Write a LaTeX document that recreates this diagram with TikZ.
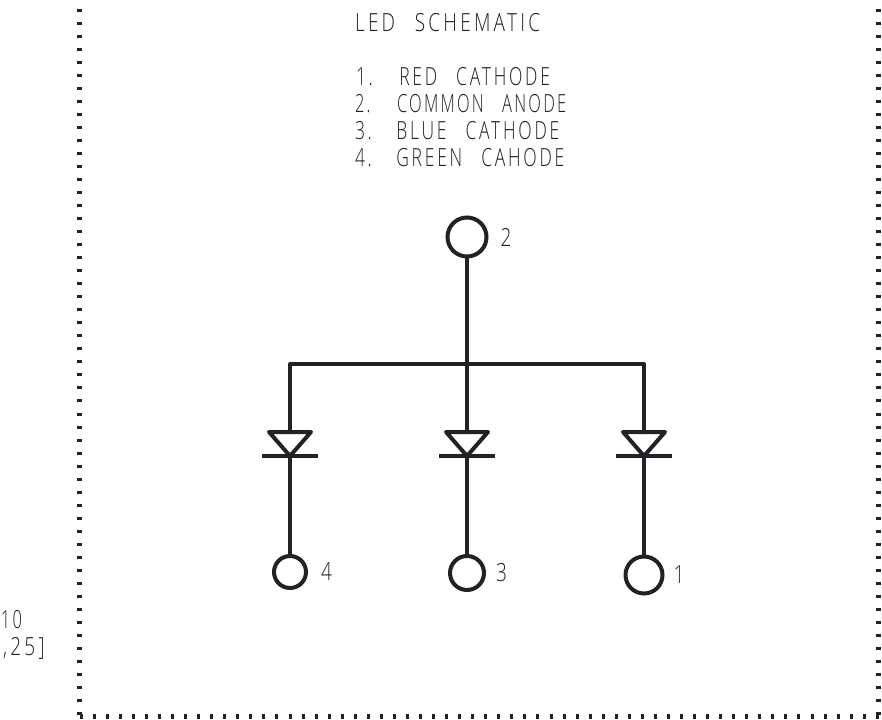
\documentclass[tikz,border=0pt]{standalone}
\usepackage{fontspec}
\newfontfamily\cadfont[UprightFont=* Light,FakeStretch=0.76,LetterSpace=13,WordSpace=2.4]{Open Sans}
\newfontfamily\cadmid[UprightFont=* Light,FakeStretch=0.70,LetterSpace=11,WordSpace=2.6]{Open Sans}
\newfontfamily\cadnarrow[UprightFont=* Light,FakeStretch=0.66,LetterSpace=9,WordSpace=2.8]{Open Sans}
\usetikzlibrary{positioning}
\definecolor{inkdark}{HTML}{222226}

\begin{document}
\begin{tikzpicture}[
    x=1pt, y=-1pt,
    every node/.style={inner sep=0pt, outer sep=0pt, text=inkdark},
    cadtext/.style={font=\cadfont\fontsize{25}{27}\selectfont, anchor=base west},
    legend/.style={font=\cadmid\fontsize{25}{27}\selectfont, anchor=base west},
    legendnarrow/.style={font=\cadnarrow\fontsize{25}{27}\selectfont, anchor=base west},
    pinlabel/.style={font=\cadfont\fontsize{25}{27}\selectfont},
    pin/.style={circle, draw=inkdark, line width=4pt},
    wire/.style={draw=inkdark, line width=4pt},
    diodeline/.style={wire, line join=round},
    border/.style={draw=inkdark, line width=5pt, dash pattern=on 3pt off 10.03pt},
]
\useasboundingbox (0,0) rectangle (882,719);

% Dotted frame
\coordinate (tl) at (79.3,0);
\coordinate (bl) at (79.3,715.2);
\coordinate (tr) at (878.5,0);
\coordinate (br) at (878.5,715.2);
\coordinate (bls) at (79.7,716);
\coordinate (brs) at (881,716);
\draw[border] (bl) -- (tl);
\draw[border] (br) -- (tr);
\draw[border, dash pattern=on 3pt off 10.05pt] (bls) -- (brs);

% Title and legend
\node[cadtext] (title) at (355,32) {LED SCHEMATIC};
\node[legend] (leg1) at (356,86) {1.\kern5pt{} RED CATHODE};
\node[legendnarrow] (leg2) at (355,113) {2.\kern6pt{} COMMON ANODE};
\node[legend] (leg3) at (355,140) {3.\kern3pt{} BLUE CATHODE};
\node[legend] (leg4) at (355,167) {4.\kern3pt{} GREEN CAHODE};

% Cut-off text on the left
\node[legendnarrow] (cut1) at (1,628) {10};
\node[cadtext] (cut2) at (3,655) {,25]};

% Pins
\node[pin, minimum size=39pt] (pin2) at (467,237) {};
\node[pin, minimum size=32pt] (pin4) at (290,572) {};
\node[pin, minimum size=34pt] (pin3) at (467,573) {};
\node[pin, minimum size=37pt] (pin1) at (644,575) {};

\node[pinlabel, right=14pt of pin2] (lab2) {2};
\node[pinlabel, right=15pt of pin4] (lab4) {4};
\node[pinlabel, right=12pt of pin3] (lab3) {3};
\node[pinlabel, right=11pt of pin1] (lab1) {1};

% Bus
\coordinate (bus4) at (290,364);
\coordinate (bus3) at (467,364);
\coordinate (bus1) at (644,364);
\draw[wire] (pin2) -- (bus3);
\draw[wire, line cap=round] (bus4) -- (bus1);

% Diodes
\foreach \n/\x in {4/290,3/467,1/644} {
  \coordinate (top\n) at (\x,432);
  \coordinate (tip\n) at (\x,456);
  \draw[wire] (bus\n) -- (top\n);
  \draw[diodeline] (\x-21,432) -- (\x+21,432) -- (tip\n) -- cycle;
  \draw[wire] (\x-28,456) -- (\x+28,456);
  \draw[wire] (tip\n) -- (pin\n);
}
\end{tikzpicture}
\end{document}
